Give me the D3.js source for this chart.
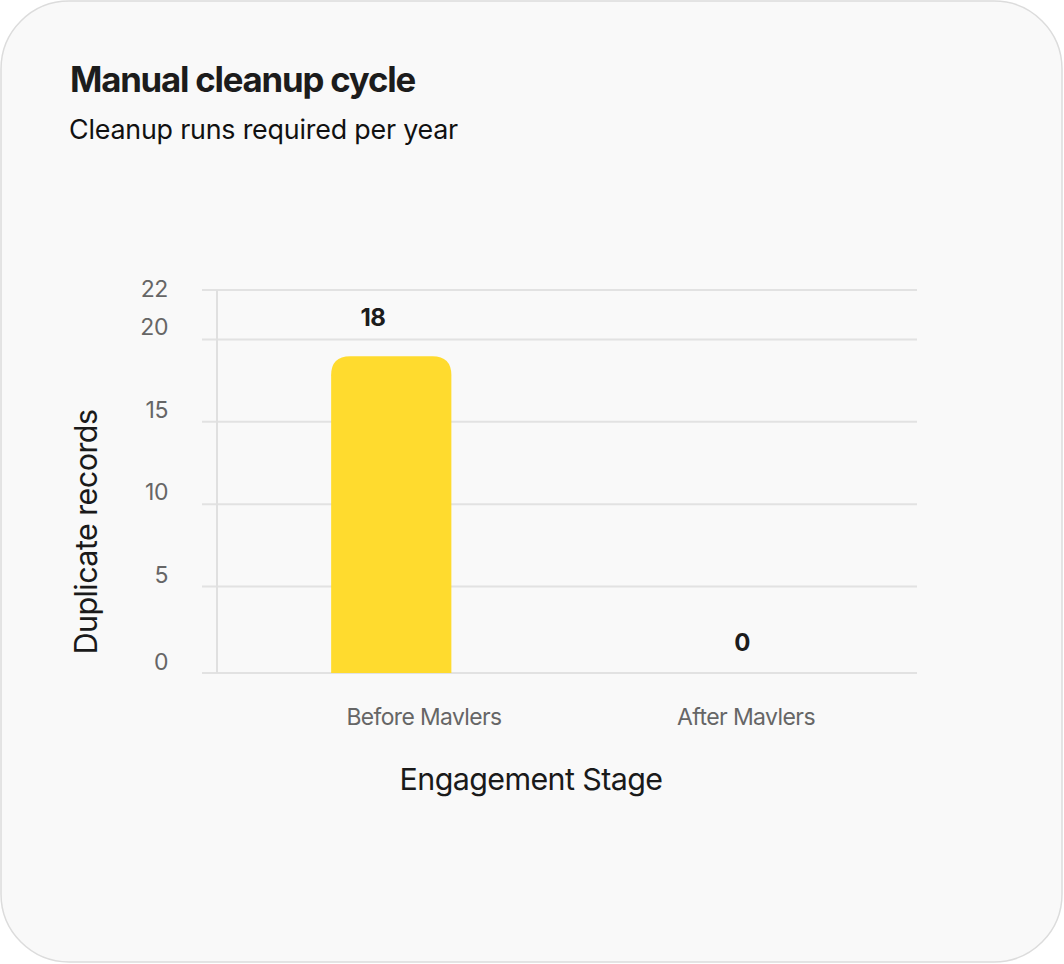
<!DOCTYPE html>
<html><head><meta charset="utf-8">
<script src="https://cdn.jsdelivr.net/npm/d3@7"></script>
<style>
html,body{margin:0;padding:0;background:#fff;}
svg{display:block;font-family:Inter,"Noto Sans",sans-serif;}
</style></head>
<body>
<svg id="c" width="1064" height="964"></svg>
<script>
const categories = ["Before Mavlers", "After Mavlers"];
const values = [18, 0];
const yTickValues = [0, 5, 10, 15, 20, 22];
const gridValues = [5, 10, 15, 20, 23];
const titleText = "Manual cleanup cycle";
const subtitleText = "Cleanup runs required per year";
const xTitle = "Engagement Stage";
const yTitle = "Duplicate records";

const svg = d3.select("#c");

// scale font size so the text reaches the target width with the given tracking
function fitSize(sel, target, ls) {
  sel.attr("letter-spacing", ls);
  const fs = +sel.attr("font-size");
  const w = sel.node().getComputedTextLength();
  const n = sel.text().length;
  const glyphW = w - ls * n;
  const newFs = fs * (target - ls * n) / glyphW;
  sel.attr("font-size", newFs.toFixed(2));
}

// card
svg.append("rect").attr("x", 1).attr("y", 1).attr("width", 1061).attr("height", 961)
  .attr("rx", 68).attr("fill", "#f9f9f9").attr("stroke", "#dcdcdc").attr("stroke-width", 1.5);

// title
const t = svg.append("text").attr("x", 70).attr("y", 92).text(titleText)
  .attr("font-size", 30).attr("font-weight", 700).attr("fill", "#1c1c1c");
fitSize(t, 345, -1.2);
const st = svg.append("text").attr("x", 69).attr("y", 139).text(subtitleText)
  .attr("font-size", 24).attr("fill", "#111");
fitSize(st, 389, -0.2);

// scales
const y = d3.scaleLinear().domain([-0.25, 23]).range([673, 290]);
const x = d3.scaleBand().domain(categories).range([216, 917]).padding(0);
const xLabel = d3.scalePoint().domain(categories).range([424, 746]);
const vLabel = d3.scalePoint().domain(categories).range([373, 742]);

// grid
const g = svg.append("g");
g.selectAll("line.grid").data(gridValues).join("line").attr("class", "grid")
  .attr("x1", 202).attr("x2", 917)
  .attr("y1", d => y(d)).attr("y2", d => y(d))
  .attr("stroke", "#e2e2e2").attr("stroke-width", 2);
g.append("line").attr("x1", 202).attr("x2", 917).attr("y1", y.range()[0]).attr("y2", y.range()[0])
  .attr("stroke", "#e2e2e2").attr("stroke-width", 2);
g.append("line").attr("x1", 217).attr("x2", 217).attr("y1", y.range()[1]).attr("y2", y.range()[0])
  .attr("stroke", "#e0e0e0").attr("stroke-width", 2);

// y tick labels
const lastTick = yTickValues[yTickValues.length - 1];
g.selectAll("text.yt").data(yTickValues).join("text").attr("class", "yt")
  .attr("x", 168)
  .attr("y", d => y(d) - 4 + (d === 0 ? 5 : d === lastTick ? -5 : 0))
  .attr("text-anchor", "end").attr("font-size", 23).attr("fill", "#666")
  .attr("letter-spacing", -0.4)
  .text(d => d);

// bars
const data = categories.map((c, i) => ({ c, v: values[i] }));
const bw = x.bandwidth() * 0.343;
const r = 19, cap = 16;
g.selectAll("path.bar").data(data.filter(d => d.v > 0)).join("path").attr("class", "bar")
  .attr("d", d => {
    const x0 = x(d.c) + x.bandwidth() / 2 - bw / 2, x1 = x0 + bw;
    const top = y(d.v) - cap, bot = y.range()[0];
    return `M${x0},${bot}V${top + r}Q${x0},${top} ${x0 + r},${top}H${x1 - r}Q${x1},${top} ${x1},${top + r}V${bot}Z`;
  })
  .attr("fill", "#FFDB2E");

// value labels
g.selectAll("text.vl").data(data).join("text").attr("class", "vl")
  .attr("x", d => vLabel(d.c))
  .attr("y", d => d.v > 0 ? y(d.v) - cap - 30 : y(0) - 18)
  .attr("text-anchor", "middle").attr("font-size", 24).attr("font-weight", 700).attr("fill", "#1c1c1c")
  .attr("letter-spacing", -0.5)
  .text(d => d.v);

// x labels
g.selectAll("text.xl").data(categories).join("text").attr("class", "xl")
  .attr("x", d => xLabel(d)).attr("y", 725)
  .attr("text-anchor", "middle").attr("font-size", 22).attr("fill", "#666")
  .text(d => d)
  .each(function (d, i) { fitSize(d3.select(this), i === 0 ? 155 : 138, -0.6); });

// axis titles
const xt = svg.append("text").attr("x", 531).attr("y", 790).attr("text-anchor", "middle")
  .attr("font-size", 28).attr("fill", "#1a1a1a").text(xTitle);
fitSize(xt, 263, -0.6);
const yt = svg.append("text").attr("transform", "translate(97,532) rotate(-90)")
  .attr("text-anchor", "middle").attr("font-size", 28).attr("fill", "#1a1a1a").text(yTitle);
fitSize(yt, 245, -0.6);
</script>
</body></html>
